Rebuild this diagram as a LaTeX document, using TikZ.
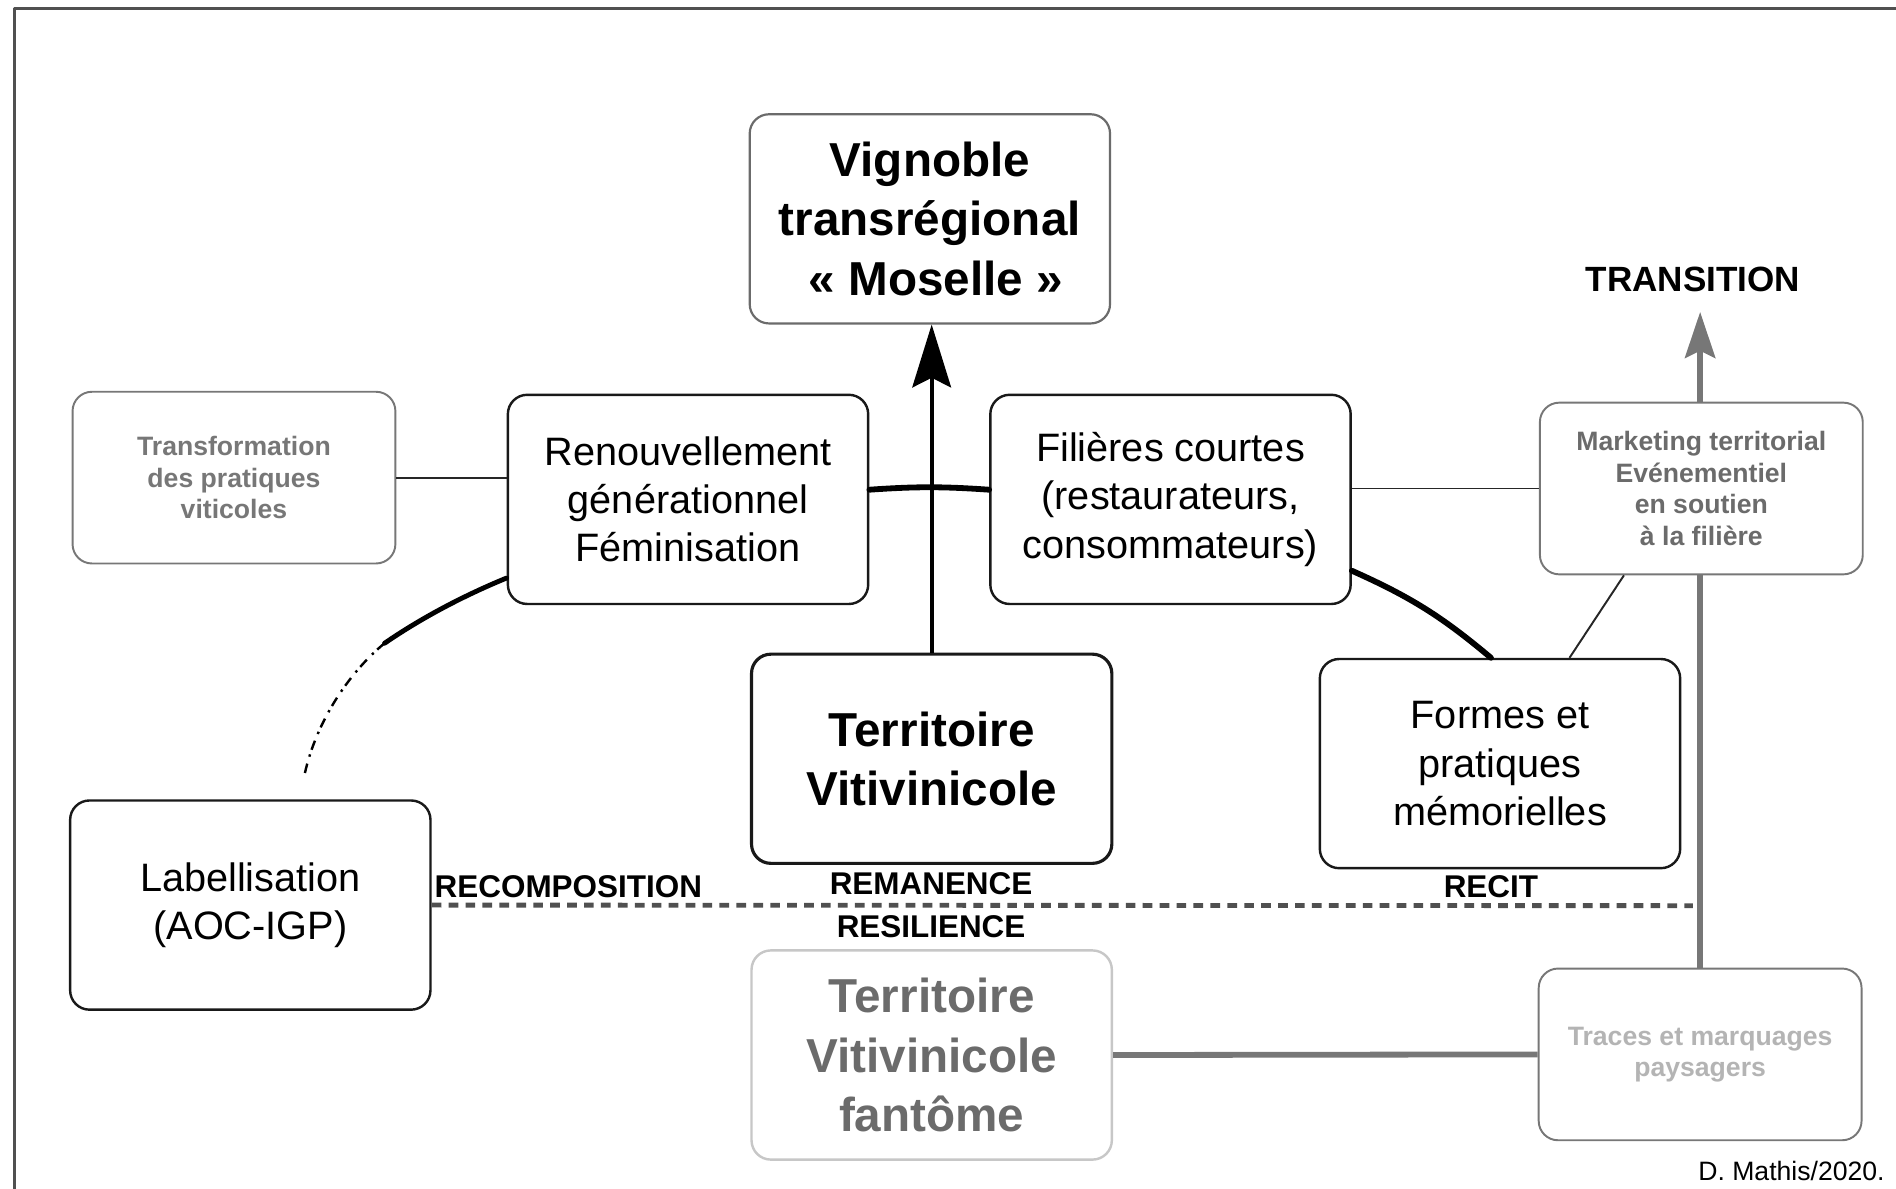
\documentclass[tikz,border=0pt]{standalone}
\usepackage{fontspec}
\setmainfont{Liberation Sans}
\usetikzlibrary{arrows.meta}
\definecolor{gris}{HTML}{777777}
\definecolor{grisfonce}{HTML}{505050}
\definecolor{grisclair}{HTML}{B4B4B4}
\begin{document}
\begin{tikzpicture}[x=0.5pt,y=-0.5pt,line join=round,font=\fontsize{16.4}{20}\selectfont]
	\tikzset{boite/.style={draw=black!90,line width=1pt,rounded corners=8pt,fill=white,
			minimum width=149pt,minimum height=86.5pt,inner sep=0pt,align=center},
		gras/.style={font=\fontsize{19.7}{24.5}\selectfont\bfseries},
		petite/.style={boite,draw=gris,line width=0.8pt,minimum width=133.5pt,minimum height=71pt,
			font=\fontsize{11}{13}\selectfont\bfseries},
		etiquette/.style={font=\fontsize{13}{15}\selectfont\bfseries,inner sep=0pt},
		trait/.style={draw=black!85,line width=0.8pt},
		pinceau/.style={draw=black,line width=2.4pt,line cap=round},
		grisepais/.style={draw=gris,line width=2.4pt}}
	\useasboundingbox (0,0) rectangle (1568,983);
	\draw[grisfonce,line width=1.4pt] (12,983) -- (12,7) -- (1568,7);
	%--------- Boites
	\node[boite,gras,draw=gris!90!black,line width=0.9pt] (vignoble) at (769,181) {Vignoble\\transrégional\\\hspace*{5pt}« Moselle »};
	\node[petite,text=gris] (transfo) at (193.5,395) {Transformation\\des pratiques\\viticoles};
	\node[boite] (renouv) at (569,413) {Renouvellement\\générationnel\\Féminisation};
	\node[boite] (filieres) at (968,413) {Filières courtes\\(restaurateurs,\\consommateurs)};
	\node[petite,text=gris!90!black] (marketing) at (1407,404) {Marketing territorial\\Evénementiel\\en soutien\\à la filière};
	\node[boite,gras,line width=1.3pt] (territoire) at (770.5,627.5) {Territoire\\Vitivinicole};
	\node[boite] (formes) at (1240.5,631.5) {Formes et\\pratiques\\mémorielles};
	\node[boite] (label) at (207,748.5) {Labellisation\\(AOC-IGP)};
	\node[boite,gras,draw=black!22,text=gris!90!black] (fantome) at (770.5,872.5) {Territoire\\Vitivinicole\\fantôme};
	\node[petite,text=grisclair] (traces) at (1406,872) {Traces et marquages\\paysagers};
	%--------- Etiquettes
	\node[etiquette,font=\fontsize{14.5}{17}\selectfont\bfseries] (transition) at (1400,231) {TRANSITION};
	\node[etiquette] (recomp) at (470,733) {RECOMPOSITION};
	\node[etiquette] (remanence) at (770,731) {REMANENCE};
	\node[etiquette] (resilience) at (770,766) {RESILIENCE};
	\node[etiquette] (recit) at (1233,733) {RECIT};
	\node[anchor=east,inner sep=0pt,font=\fontsize{11}{13}\selectfont] (auteur) at (1559,968) {D. Mathis/2020.};
	\coordinate (pointe) at (1406,258);
	\coordinate (finTirets) at (1400,749);
	\coordinate (milieuArc) at (318,532);
	\coordinate (finArc) at (252,640);
	%--------- Liaisons
	\draw[line width=1.5pt,-{Stealth[length=26pt,width=16pt,inset=4pt]}] (territoire.north) -- (territoire.north |- vignoble.south);
	\draw[trait] (transfo.east) -- (transfo.east -| renouv.west);
	\draw[trait] (filieres.east |- marketing.west) -- (marketing.west);
	\draw[trait] ([xshift=-32pt]marketing.south) -- ([xshift=28.75pt]formes.north);
	\draw[pinceau] ([yshift=4pt]renouv.east) to[bend left=4] ([yshift=4pt]filieres.west);
	\draw[pinceau] ([yshift=-29.5pt]filieres.east) to[bend left=8] ([xshift=-3.75pt]formes.north);
	\draw[pinceau,line width=2pt] ([yshift=-32.5pt]renouv.west) .. controls (385,492) and (350,510) .. (milieuArc);
	\draw[line width=1pt,dash pattern=on 4pt off 2pt on 1pt off 3pt] (milieuArc) .. controls (290,555) and (262,595) .. (finArc);
	\draw[grisfonce,line width=2pt,dash pattern=on 4pt off 3pt] (label.east) -- (finTirets);
	\draw[grisepais] (fantome.east) -- (traces.west);
	\draw[grisepais] (traces.north) -- (traces.north |- marketing.south);
	\draw[grisepais,-{Stealth[length=19pt,width=12.5pt,inset=3pt]}] (traces.north |- marketing.north) -- (pointe);
\end{tikzpicture}
\end{document}
